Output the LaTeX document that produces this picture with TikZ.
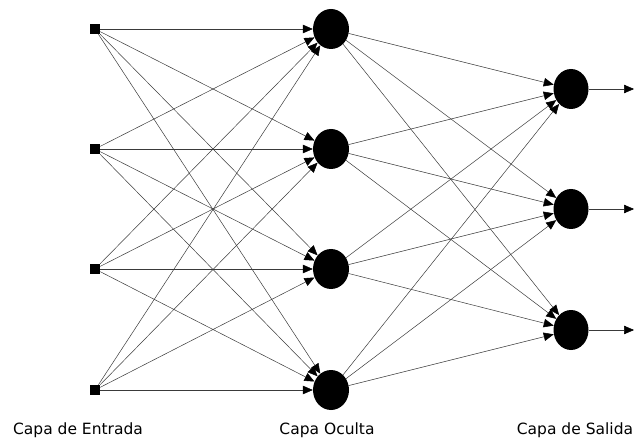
\documentclass[tikz,border=0pt]{standalone}
\usepackage{fontspec}
\setmainfont{DejaVu Sans}
\usepackage{tikz}
\usetikzlibrary{arrows.meta,shapes.geometric}
\definecolor{wire}{HTML}{3A3A3A}

\begin{document}
\begin{tikzpicture}[x=1pt,y=-1pt,
  inp/.style={fill=black,minimum size=10pt,inner sep=0pt},
  neuron/.style={ellipse,fill=black,inner sep=0pt,minimum width=36pt,minimum height=40pt},
  link/.style={line width=0.5pt,color=wire,-{Triangle[length=10pt,width=8.5pt,color=black]}},
  layer/.style={anchor=base,font=\fontsize{15.5}{18}\selectfont}]
  \useasboundingbox (0,0) rectangle (634,438);
  \foreach \i/\y in {1/29,2/149,3/269,4/390} { \node[inp] (i\i) at (95,\y) {}; \node[neuron] (h\i) at (331,\y) {}; }
  \foreach \i/\y in {1/89,2/209,3/330} { \node[neuron,minimum width=35pt] (o\i) at (571,\y) {}; \coordinate (e\i) at (634,\y); }
  % entrada -> oculta
  \foreach \a in {1,...,4} { \foreach \b in {1,...,4} { \draw[link] (i\a) -- (h\b); } }
  % oculta -> salida
  \foreach \a in {1,...,4} { \foreach \b in {1,2,3} { \draw[link] (h\a) -- (o\b); } }
  \foreach \b in {1,2,3} { \draw[link] (o\b) -- (e\b); }
  \node[layer] (tin) at (78,434) {Capa de Entrada};
  \node[layer] (thid) at (327,434) {Capa Oculta};
  \node[layer] (tout) at (575,434) {Capa de Salida};
\end{tikzpicture}
\end{document}
